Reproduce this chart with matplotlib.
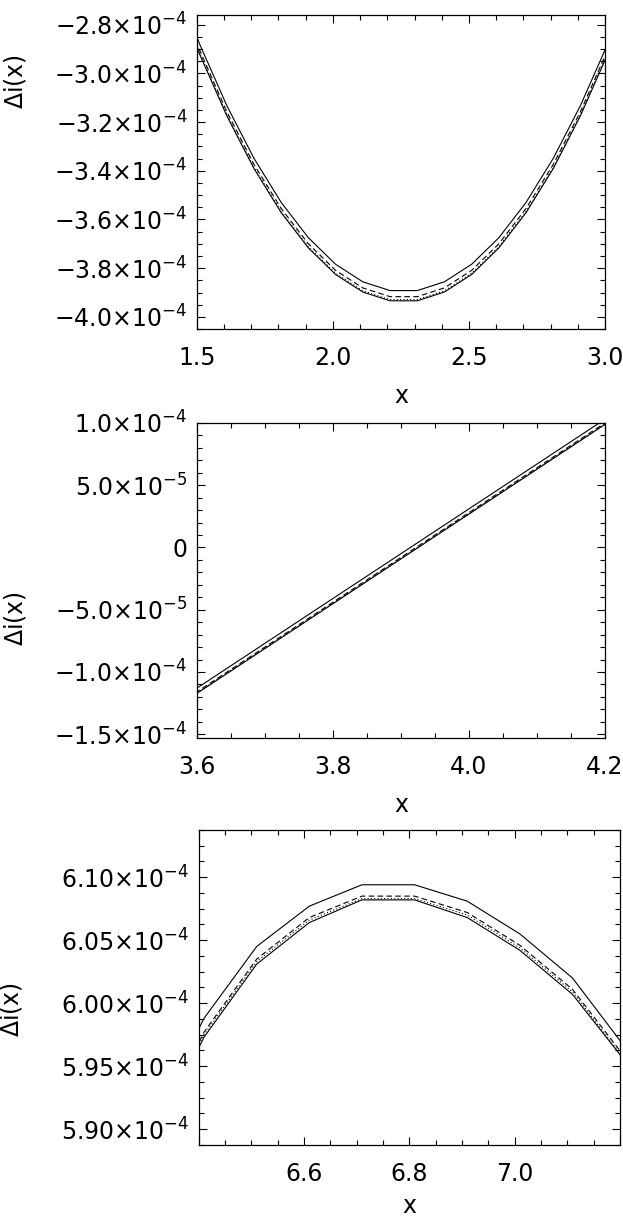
import matplotlib
matplotlib.use("Agg")
import matplotlib.pyplot as plt
from matplotlib.ticker import AutoMinorLocator

plt.rcParams['font.family'] = ['DejaVu Sans']
plt.rcParams['mathtext.default'] = 'regular'

# values of delta i(x) are in units of 1e-4

# panel 1
x1 = [1.41, 1.51, 1.61, 1.71, 1.81, 1.91, 2.01, 2.11, 2.21, 2.31, 2.41, 2.51, 2.61, 2.71, 2.81, 2.91, 3.01, 3.11]
a1 = [-2.589, -2.879, -3.132, -3.349, -3.530, -3.675, -3.784, -3.856, -3.892, -3.892, -3.856, -3.784, -3.675, -3.530, -3.349, -3.132, -2.879, -2.589]
b1 = [-2.614, -2.904, -3.157, -3.374, -3.555, -3.700, -3.809, -3.881, -3.917, -3.917, -3.881, -3.809, -3.700, -3.555, -3.374, -3.157, -2.904, -2.614]
c1 = [-2.626, -2.916, -3.169, -3.386, -3.567, -3.712, -3.821, -3.893, -3.929, -3.929, -3.893, -3.821, -3.712, -3.567, -3.386, -3.169, -2.916, -2.626]
d1 = [-2.631, -2.921, -3.174, -3.391, -3.572, -3.717, -3.826, -3.898, -3.934, -3.934, -3.898, -3.826, -3.717, -3.572, -3.391, -3.174, -2.921, -2.631]
xt1 = [1.5, 2.0, 2.5, 3.0]
xl1 = ['1.5', '2.0', '2.5', '3.0']
yt1 = [-2.8, -3.0, -3.2, -3.4, -3.6, -3.8, -4.0]
yl1 = [r'$-2.8{\times}10^{-4}$', r'$-3.0{\times}10^{-4}$', r'$-3.2{\times}10^{-4}$', r'$-3.4{\times}10^{-4}$',
       r'$-3.6{\times}10^{-4}$', r'$-3.8{\times}10^{-4}$', r'$-4.0{\times}10^{-4}$']

# panel 2
x2 = [3.51, 3.61, 3.71, 3.81, 3.91, 4.01, 4.11, 4.21, 4.31]
a2 = [-1.454, -1.094, -0.734, -0.374, -0.014, 0.346, 0.706, 1.066, 1.426]
b2 = [-1.484, -1.124, -0.764, -0.404, -0.044, 0.316, 0.676, 1.036, 1.396]
c2 = [-1.492, -1.132, -0.772, -0.412, -0.052, 0.308, 0.668, 1.028, 1.388]
d2 = [-1.496, -1.136, -0.776, -0.416, -0.056, 0.304, 0.664, 1.024, 1.384]
xt2 = [3.6, 3.8, 4.0, 4.2]
xl2 = ['3.6', '3.8', '4.0', '4.2']
yt2 = [1.0, 0.5, 0.0, -0.5, -1.0, -1.5]
yl2 = [r'$1.0{\times}10^{-4}$', r'$5.0{\times}10^{-5}$', '0', r'$-5.0{\times}10^{-5}$',
       r'$-1.0{\times}10^{-4}$', r'$-1.5{\times}10^{-4}$']

# panel 3
x3 = [6.31, 6.41, 6.51, 6.61, 6.71, 6.81, 6.91, 7.01, 7.11, 7.21]
a3 = [5.905, 5.988, 6.045, 6.077, 6.094, 6.094, 6.081, 6.055, 6.020, 5.965]
b3 = [5.894, 5.977, 6.035, 6.068, 6.085, 6.085, 6.072, 6.046, 6.011, 5.957]
c3 = [5.892, 5.975, 6.033, 6.066, 6.083, 6.083, 6.070, 6.044, 6.009, 5.955]
d3 = [5.890, 5.973, 6.031, 6.064, 6.082, 6.082, 6.068, 6.042, 6.007, 5.954]
xt3 = [6.4, 6.6, 6.8, 7.0, 7.2]
xl3 = ['', '6.6', '6.8', '7.0', '']
yt3 = [6.10, 6.05, 6.00, 5.95, 5.90]
yl3 = [r'$6.10{\times}10^{-4}$', r'$6.05{\times}10^{-4}$', r'$6.00{\times}10^{-4}$',
       r'$5.95{\times}10^{-4}$', r'$5.90{\times}10^{-4}$']


def panel(rect, x, a, b, c, d, xlim, ylim, xt, xl, yt, yl, xminor, yminor, ylab_y, xlab_y):
    ax = fig.add_axes(rect)
    lw = 0.8
    ax.plot(x, a, color='k', lw=lw)
    ax.plot(x, b, color='k', lw=lw, linestyle=(0, (5, 3)))
    ax.plot(x, c, color='k', lw=lw, linestyle=(0, (1, 2)))
    ax.plot(x, d, color='k', lw=lw)
    ax.set_xlim(xlim)
    ax.set_ylim(ylim)
    ax.set_xticks(xt)
    ax.set_xticklabels(xl)
    ax.set_yticks(yt)
    ax.set_yticklabels(yl)
    ax.xaxis.set_minor_locator(AutoMinorLocator(xminor))
    ax.yaxis.set_minor_locator(AutoMinorLocator(yminor))
    ax.tick_params(which='both', direction='in', top=True, right=True, width=0.8, labelsize=17)
    ax.tick_params(which='major', length=6)
    ax.tick_params(which='minor', length=3.5)
    ax.tick_params(axis='x', pad=12)
    ax.tick_params(axis='y', pad=7)
    for s in ax.spines.values():
        s.set_linewidth(0.9)
    ax.set_xlabel('x', fontsize=17)
    ax.xaxis.set_label_coords(0.5, xlab_y)
    ax.set_ylabel(r'$\Delta$i(x)', fontsize=17)
    ax.yaxis.set_label_coords(-0.415, ylab_y)
    return ax


fig = plt.figure(figsize=(6.23, 12.2), dpi=100)

panel([0.316, 0.7303, 0.655, 0.2574], x1, a1, b1, c1, d1, (1.5, 3.0), (-4.05, -2.76),
      xt1, xl1, yt1, yl1, 5, 4, 0.787, -0.175)
panel([0.316, 0.3951, 0.655, 0.2582], x2, a2, b2, c2, d2, (3.6, 4.2), (-1.53, 1.0),
      xt2, xl2, yt2, yl2, 4, 5, 0.38, -0.175)
panel([0.319, 0.0615, 0.676, 0.2582], x3, a3, b3, c3, d3, (6.4, 7.2), (5.8875, 6.1375),
      xt3, xl3, yt3, yl3, 4, 4, 0.43, -0.155)

fig.savefig('out.png', dpi=100)
